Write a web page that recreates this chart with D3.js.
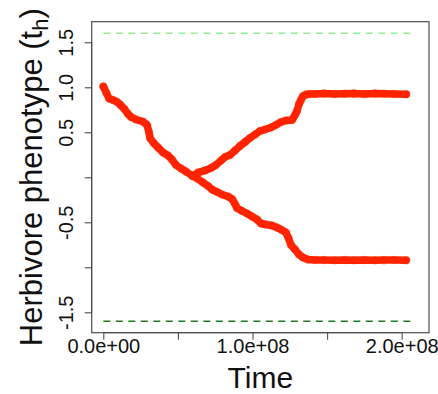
<!DOCTYPE html>
<html>
<head>
<meta charset="utf-8">
<script src="https://cdn.jsdelivr.net/npm/d3@7"></script>
<style>
  html, body { margin: 0; padding: 0; background: #ffffff; }
  svg { display: block; font-family: "Liberation Sans", Arial, sans-serif; }
</style>
</head>
<body>
<svg id="chart" width="438" height="394"></svg>
<script>
// ---- data (time in units of generations, phenotype values) ----
const trunkTime = [0, 2.1e6, 3.8e6, 6.5e6, 9.2e6, 11.2e6, 13.9e6, 16.6e6, 18.6e6, 21.9e6, 26.6e6, 29.3e6, 30.6e6, 31.3e6, 34.0e6, 36.7e6, 40.0e6, 43.4e6, 46.0e6, 48.7e6, 52.1e6, 55.4e6, 59.4e6, 60.1e6];
const trunkValue = [1.009, 0.937, 0.876, 0.859, 0.837, 0.809, 0.764, 0.703, 0.670, 0.642, 0.618, 0.581, 0.503, 0.437, 0.376, 0.331, 0.276, 0.242, 0.198, 0.137, 0.098, 0.064, 0.020, 0.014];

const upperTime = [60.1e6, 63.5e6, 68.2e6, 72.2e6, 75.5e6, 78.9e6, 81.6e6, 84.9e6, 88.3e6, 91.6e6, 95.0e6, 98.3e6, 101.7e6, 105.0e6, 108.4e6, 112.4e6, 115.7e6, 119.1e6, 122.4e6, 126.5e6, 128.5e6, 129.8e6, 131.2e6, 132.5e6, 133.8e6, 135.9e6, 138.5e6, 142e6, 148e6, 155e6, 162e6, 168e6, 175e6, 182e6, 188e6, 195e6, 203e6];
const upperValue = [0.014, 0.053, 0.076, 0.103, 0.137, 0.187, 0.226, 0.248, 0.298, 0.348, 0.392, 0.437, 0.476, 0.514, 0.531, 0.553, 0.581, 0.614, 0.631, 0.637, 0.692, 0.737, 0.814, 0.859, 0.903, 0.920, 0.926, 0.926, 0.931, 0.926, 0.928, 0.930, 0.926, 0.931, 0.928, 0.926, 0.922];

const lowerTime = [60.1e6, 63.5e6, 66.8e6, 70.2e6, 72.9e6, 76.2e6, 79.6e6, 83.6e6, 86.3e6, 88.3e6, 89.6e6, 93.0e6, 96.3e6, 99.7e6, 103.0e6, 105.7e6, 109.0e6, 113.1e6, 116.4e6, 119.1e6, 122.4e6, 124.1e6, 125.8e6, 128.5e6, 131.2e6, 133.8e6, 137.2e6, 142e6, 148e6, 155e6, 162e6, 168e6, 175e6, 182e6, 188e6, 195e6, 203e6];
const lowerValue = [0.014, -0.019, -0.058, -0.097, -0.136, -0.163, -0.191, -0.213, -0.241, -0.297, -0.341, -0.374, -0.402, -0.436, -0.469, -0.513, -0.524, -0.536, -0.558, -0.580, -0.613, -0.674, -0.752, -0.802, -0.858, -0.891, -0.913, -0.919, -0.919, -0.922, -0.919, -0.921, -0.919, -0.922, -0.920, -0.919, -0.922];

const boundaryValues = [1.6, -1.6];
const boundaryColors = ["#90ee90", "#1e7a1e"];
const boundaryTimeRange = [0, 2.06e8];

const xTicks = [0, 5e7, 1e8, 1.5e8, 2e8];
const xTickLabels = ["0.0e+00", "", "1.0e+08", "", "2.0e+08"];
const yTicks = [-1.5, -1.0, -0.5, 0, 0.5, 1.0, 1.5];
const yTickLabels = ["-1.5", "", "-0.5", "", "0.5", "1.0", "1.5"];

// ---- layout ----
const svg = d3.select("#chart");
const box = { left: 91.7, top: 21.7, right: 429, bottom: 332.7 };
const x = d3.scaleLinear().domain([0, 2e8]).range([103.3, 401.7]);
const y = d3.scaleLinear().domain([-1.5, 1.5]).range([312.3, 42.3]);
const axisColor = "#4d4d4d";

// boundary dashed lines
boundaryValues.forEach((v, i) => {
  svg.append("line")
    .attr("x1", x(boundaryTimeRange[0])).attr("x2", x(boundaryTimeRange[1]))
    .attr("y1", y(v)).attr("y2", y(v))
    .attr("stroke", boundaryColors[i]).attr("stroke-width", 1.6)
    .attr("stroke-dasharray", "7,5.5");
});

// trajectories
const red = "#ff2400";
const series = [
  trunkTime.map((t, i) => [t, trunkValue[i]]),
  upperTime.map((t, i) => [t, upperValue[i]]),
  lowerTime.map((t, i) => [t, lowerValue[i]])
];
const line = d3.line().x(d => x(d[0])).y(d => y(d[1])).curve(d3.curveLinear);
series.forEach(s => {
  svg.append("path").attr("d", line(s))
    .attr("fill", "none").attr("stroke", red)
    .attr("stroke-width", 7.5).attr("stroke-linejoin", "round").attr("stroke-linecap", "round");
});
series.forEach(s => {
  svg.append("g").selectAll("circle").data(s).join("circle")
    .attr("cx", d => x(d[0])).attr("cy", d => y(d[1])).attr("r", 4.3)
    .attr("fill", red).attr("fill-opacity", 0.45);
});

// box
svg.append("rect")
  .attr("x", box.left).attr("y", box.top)
  .attr("width", box.right - box.left).attr("height", box.bottom - box.top)
  .attr("fill", "none").attr("stroke", axisColor).attr("stroke-width", 1.2);

// x axis
const xAxis = d3.axisBottom(x).tickValues(xTicks).tickSize(7)
  .tickFormat((d, i) => xTickLabels[i]);
const gx = svg.append("g").attr("transform", `translate(0,${box.bottom})`).call(xAxis);
gx.select(".domain").attr("stroke", axisColor).attr("d", `M${x(0)},0H${x(2e8)}`);
gx.selectAll(".tick line").attr("stroke", axisColor).attr("stroke-width", 1.1);
gx.selectAll(".tick text").attr("font-size", 20).attr("fill", "#111")
  .attr("font-family", "Liberation Sans, Arial, sans-serif").attr("dy", null).attr("y", 20.3);

// y axis
const yAxis = d3.axisLeft(y).tickValues(yTicks).tickSize(7)
  .tickFormat((d, i) => yTickLabels[i]);
const gy = svg.append("g").attr("transform", `translate(${box.left},0)`).call(yAxis);
gy.select(".domain").attr("stroke", axisColor).attr("d", `M0,${y(-1.5)}V${y(1.5)}`);
gy.selectAll(".tick line").attr("stroke", axisColor).attr("stroke-width", 1.1);
gy.selectAll(".tick text")
  .attr("font-size", 20).attr("fill", "#111")
  .attr("font-family", "Liberation Sans, Arial, sans-serif")
  .attr("x", null).attr("dy", null)
  .attr("text-anchor", "middle")
  .attr("transform", "translate(-18.5,0) rotate(-90)");

// axis titles
svg.append("text")
  .attr("x", (box.left + box.right) / 2).attr("y", 388)
  .attr("text-anchor", "middle").attr("font-size", 30).attr("fill", "#111")
  .text("Time");

const yl = svg.append("text")
  .attr("transform", `translate(42,${(box.top + box.bottom) / 2}) rotate(-90)`)
  .attr("text-anchor", "middle").attr("font-size", 31).attr("fill", "#111");
yl.append("tspan").text("Herbivore phenotype (t");
yl.append("tspan").attr("font-size", 22).attr("dy", 6).text("h");
yl.append("tspan").attr("dy", -6).text(")");
</script>
</body>
</html>
